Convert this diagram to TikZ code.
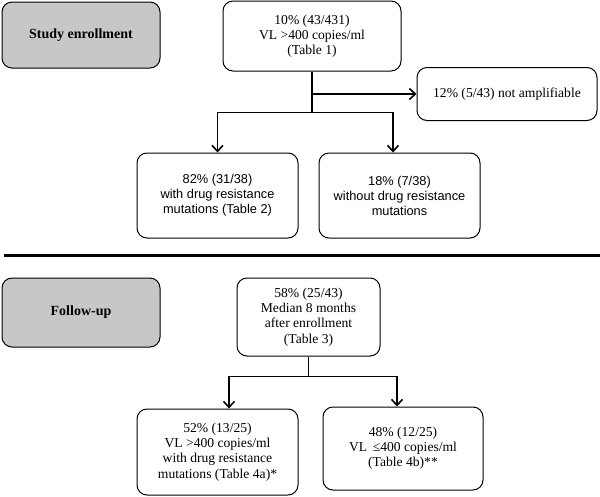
\documentclass[tikz,border=0pt]{standalone}
\usepackage{fontspec}
\setmainfont{Liberation Serif}
\setsansfont{Liberation Sans}
\usetikzlibrary{positioning,arrows.meta}

\begin{document}
\begin{tikzpicture}[x=1pt, y=1pt,
		box/.style={rectangle, rounded corners=10pt, draw=black, line width=1pt, fill=white,
			align=center, inner sep=0pt, font=\fontsize{13.6}{15.2}\selectfont},
		sbox/.style={box, font=\sffamily\fontsize{12.8}{15}\selectfont},
		phase/.style={box, fill=black!22, font=\bfseries\fontsize{14}{15}\selectfont},
		flow/.style={line width=1.3pt, -{Straight Barb[length=6pt, width=11pt, line width=1.6pt]}},
		link/.style={line width=1.1pt}
]
\useasboundingbox (0,0) rectangle (600,-496);

% study enrollment
\node [phase, minimum width=158, minimum height=66] (Enroll) at (81,-35) {Study enrollment};
\node [box, minimum width=178, minimum height=70] (Root) at (312,-36) {10\% (43/431)\\VL >400 copies/ml\\(Table 1)};
\node [box, minimum width=180, minimum height=53] (Lost) at (507,-94) {12\% (5/43) not amplifiable};
\node [sbox, minimum width=161, minimum height=85] (DRM) at (217.5,-195.5) {82\% (31/38)\\with drug resistance\\mutations (Table 2)};
\node [sbox, minimum width=161, minimum height=85] (NoDRM) at (399.5,-195.5) {18\% (7/38)\\without drug resistance\\mutations};

\coordinate (split) at ([yshift=-41pt]Root.south);
\draw [link] (Root.south) -- (split);
\draw [flow] (Root.south |- Lost.west) -- (Lost.west);
\draw [flow] (split) -| (DRM.north);
\draw [flow] (split) -| ([xshift=-6.5pt]NoDRM.north);

% separator
\coordinate (sepL) at (4,-255);
\coordinate (sepR) at (600,-255);
\draw [line width=3pt] (sepL) -- (sepR);

% follow-up
\node [phase, minimum width=158, minimum height=69] (Follow) at (81,-312.5) {Follow-up};
\node [box, minimum width=143, minimum height=78] (Month) at (308.5,-317) {58\% (25/43)\\Median 8 months\\after enrollment\\(Table 3)};
\node [box, minimum width=161, minimum height=86] (High) at (217.5,-452) {52\% (13/25)\\VL >400 copies/ml\\with drug resistance\\mutations (Table 4a)*};
\node [box, minimum width=160, minimum height=83] (Low) at (403,-448.5) {48\% (12/25)\\VL~\,≤400 copies/ml\\(Table 4b)**};

\coordinate (split2) at ([yshift=-20pt]Month.south);
\draw [link] (Month.south) -- (split2);
\draw [flow] (split2) -| ([xshift=11.5pt]High.north);
\draw [flow] (split2) -| ([xshift=-6pt]Low.north);

\end{tikzpicture}
\end{document}
